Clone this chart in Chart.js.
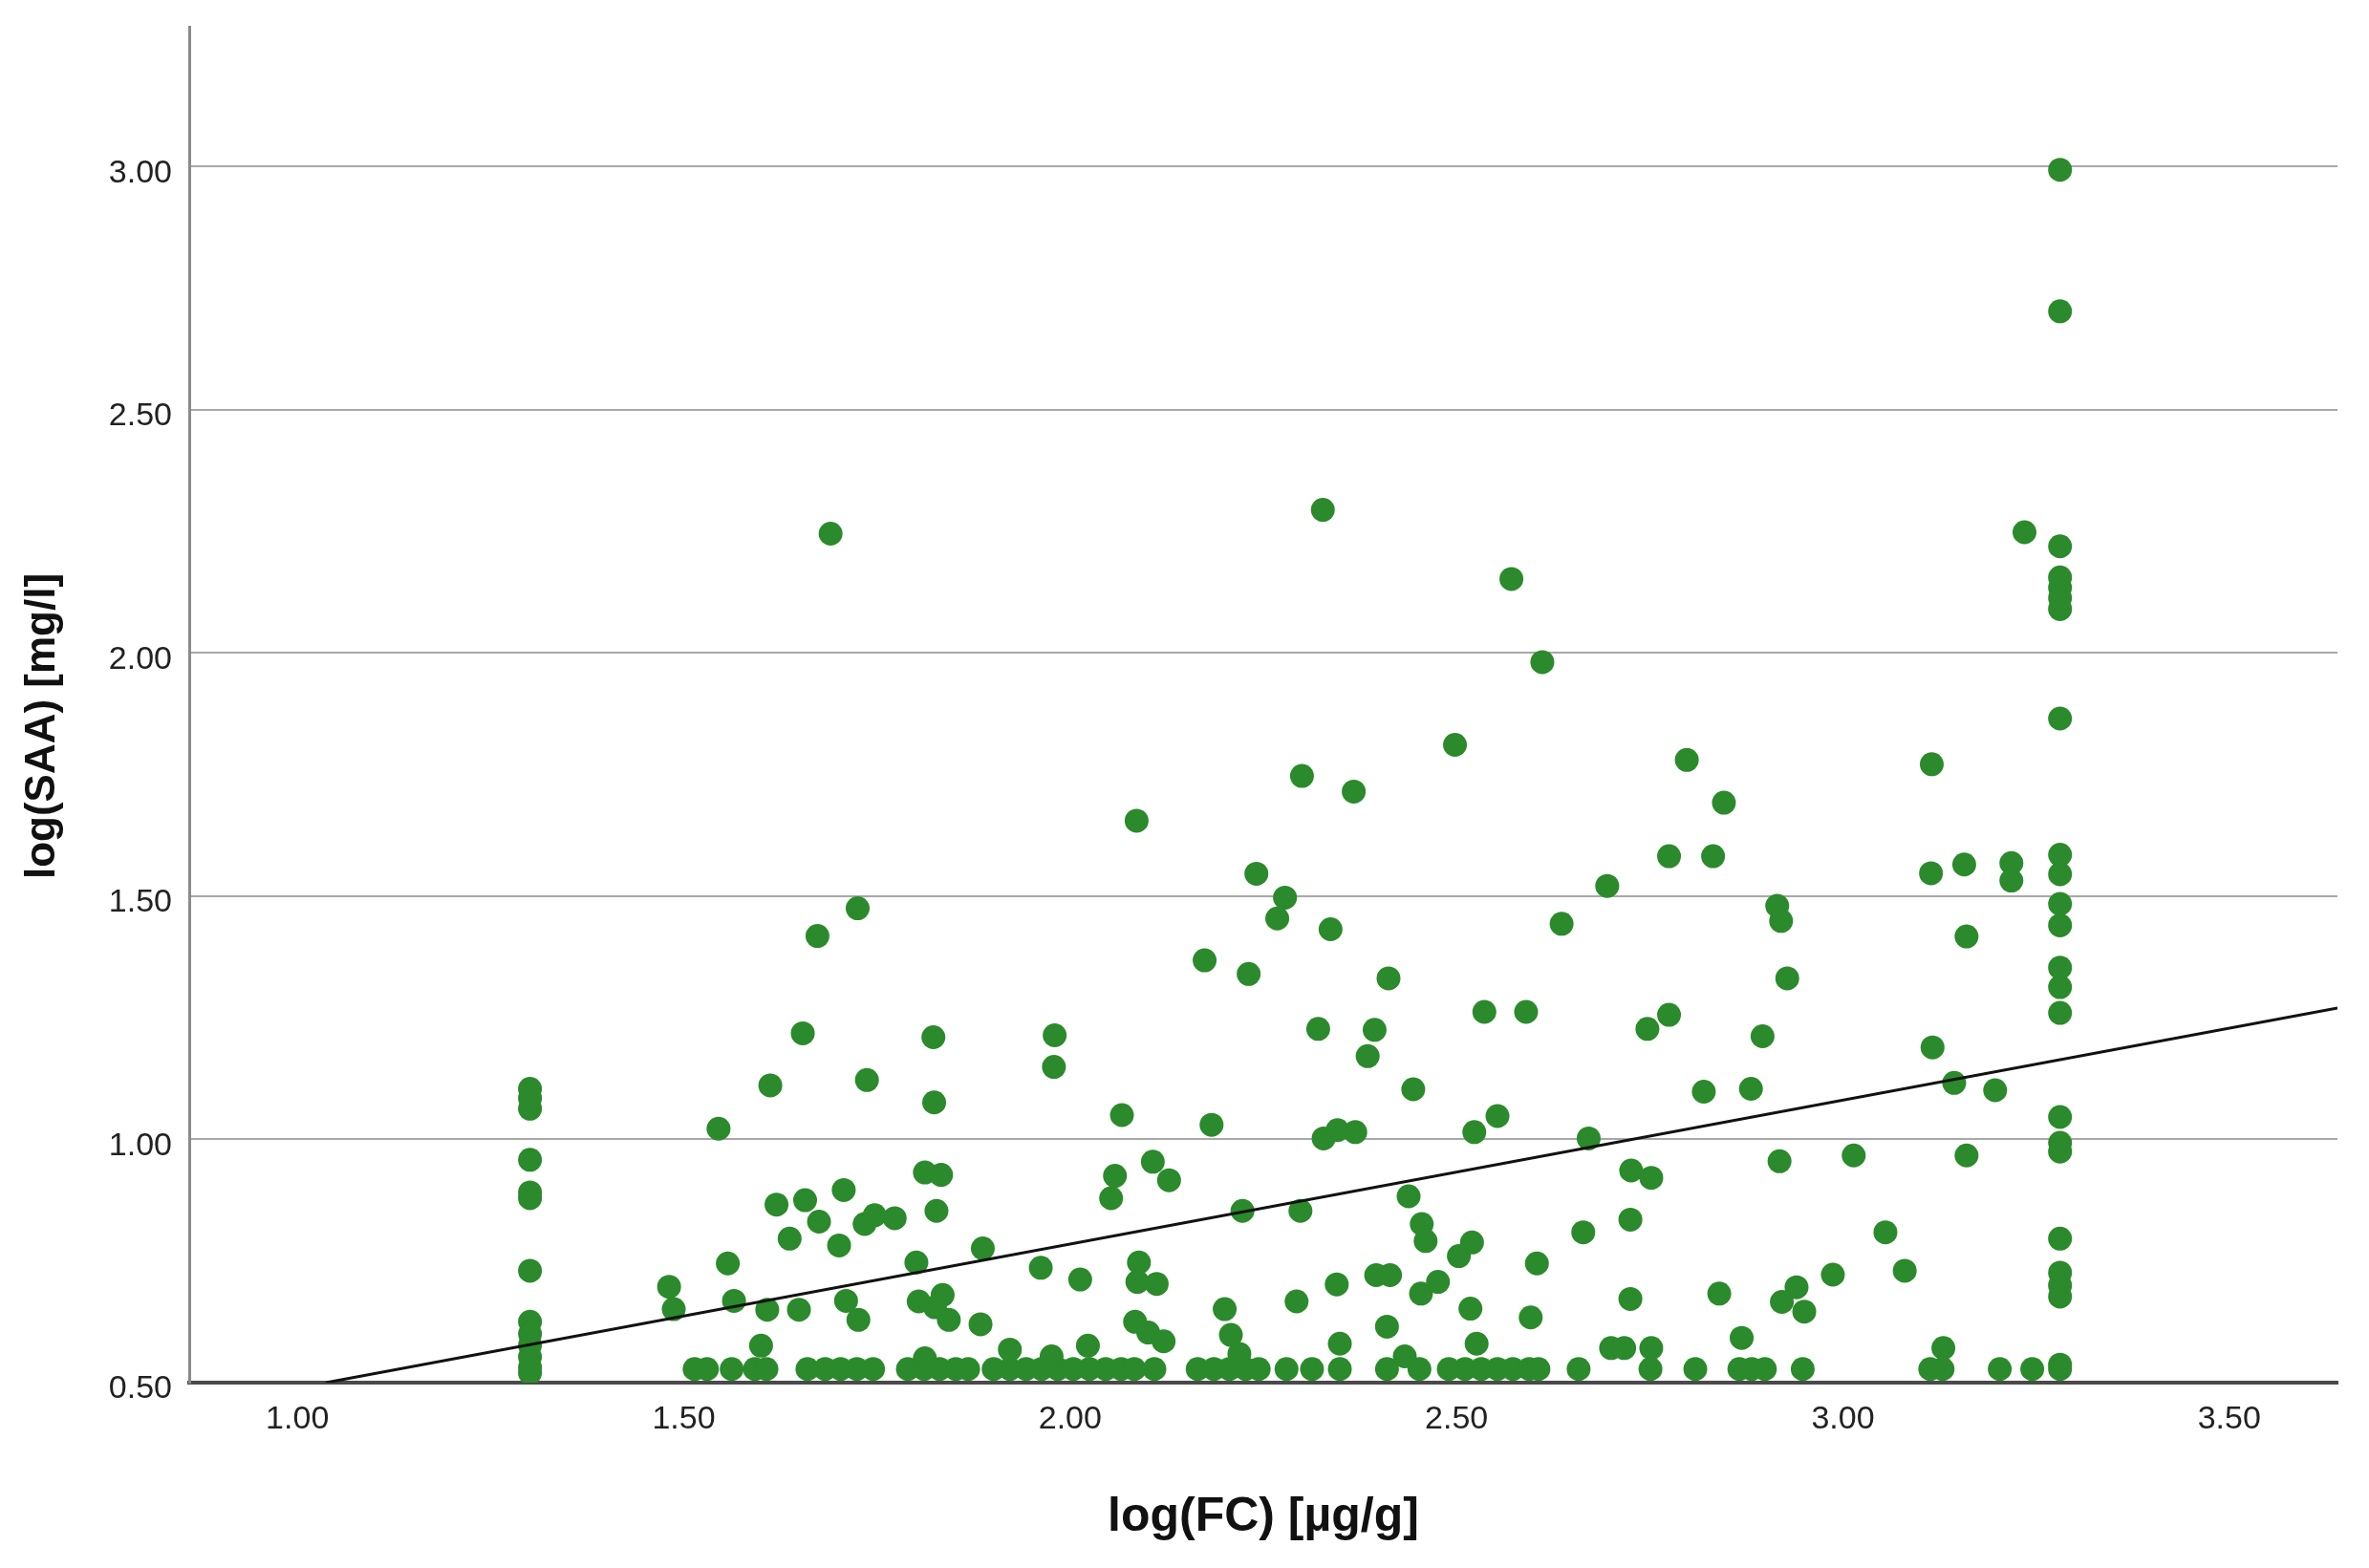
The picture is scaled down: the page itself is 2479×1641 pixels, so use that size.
<!DOCTYPE html>
<html>
<head>
<meta charset="utf-8">
<title>log(SAA) vs log(FC)</title>
<script src="https://cdn.jsdelivr.net/npm/chart.js@4.4.1/dist/chart.umd.min.js"></script>
<style>
    html, body { margin: 0; padding: 0; background: #ffffff; }
    #wrap { width: 2479px; height: 1641px; }
</style>
</head>
<body>
<div id="wrap"><canvas id="scatterChart" width="2479" height="1641"></canvas></div>
<script>
// Axis ticks
const xTicks = [1.0, 1.5, 2.0, 2.5, 3.0, 3.5];
const yTicks = [0.5, 1.0, 1.5, 2.0, 2.5, 3.0];

// Cases stacked on the lower FC limit (log 20)
const lowFC = 1.301;
const saaAtLowFC = [1.104, 1.085, 1.063, 0.958, 0.891, 0.879, 0.730, 0.625, 0.600, 0.577, 0.553, 0.531, 0.520];

// Cases stacked on the upper FC limit (log 1900)
const highFC = 3.281;
const saaAtHighFC = [2.993, 2.702, 2.219, 2.155, 2.134, 2.113, 2.090, 1.865, 1.585, 1.545, 1.484, 1.440,
    1.353, 1.313, 1.260, 1.046, 0.993, 0.975, 0.796, 0.726, 0.700, 0.677, 0.537, 0.528];

// Cases on the lower SAA limit
const floorSAA = 0.528;
const fcAtFloorSAA = [
    1.514, 1.530, 1.562, 1.592, 1.607, 1.660, 1.683, 1.703, 1.724, 1.745,
    1.790, 1.811, 1.831, 1.852, 1.868, 1.901, 1.922, 1.943, 1.963, 1.984,
    2.004, 2.025, 2.046, 2.066, 2.083, 2.109, 2.165, 2.186, 2.206, 2.227,
    2.244, 2.280, 2.313, 2.349, 2.410, 2.452, 2.490, 2.511, 2.532, 2.553,
    2.573, 2.594, 2.606, 2.658, 2.751, 2.809, 2.866, 2.882, 2.899, 2.948,
    3.113, 3.129, 3.203, 3.245
];

// All other cases (same order in both arrays)
const logFC = [
    1.725, 1.673, 1.654, 1.612, 1.737, 1.545, 1.620, 1.657, 1.707, 1.675,
    1.637, 1.701, 1.734, 1.747, 1.773, 1.557, 1.481, 1.487, 1.565, 1.608,
    1.649, 1.710, 1.726, 1.600, 1.690,
    2.086, 2.241, 2.174, 2.231, 1.823, 1.980, 1.979, 1.824, 2.067, 2.183,
    1.812, 1.833, 1.827, 2.058, 2.053, 2.107, 2.128, 2.223, 1.887, 1.801,
    1.962, 2.013, 2.089, 2.087, 2.112, 1.804, 1.835, 1.825, 1.843, 1.884,
    2.084, 2.101, 2.121, 2.200, 2.208, 2.219, 1.922, 2.023, 1.812, 1.976,
    2.498, 2.300, 2.367, 2.278, 2.268, 2.337, 2.695, 2.636, 2.412, 2.321,
    2.394, 2.385, 2.536, 2.590, 2.747, 2.444, 2.328, 2.346, 2.369, 2.523,
    2.553, 2.671, 2.726, 2.298, 2.438, 2.455, 2.460, 2.520, 2.503, 2.664,
    2.725, 2.604, 2.293, 2.345, 2.396, 2.414, 2.454, 2.476, 2.518, 2.596,
    2.725, 2.410, 2.349, 2.526, 2.700, 2.717, 2.433, 2.327, 2.571, 2.611,
    2.798, 3.115, 2.846, 2.775, 2.832, 3.114, 3.157, 3.218, 3.218, 2.915,
    2.920, 3.160, 2.928, 2.775, 2.896, 3.116, 2.820, 2.881, 3.144, 3.197,
    2.918, 3.014, 3.160, 2.752, 3.055, 3.080, 2.987, 2.840, 2.940, 2.921,
    2.950, 2.752, 2.869, 3.130, 3.235
];
const logSAA = [
    1.475, 1.418, 1.218, 1.111, 1.122, 1.022, 0.866, 0.875, 0.896, 0.831,
    0.796, 0.782, 0.826, 0.844, 0.838, 0.745, 0.697, 0.651, 0.668, 0.650,
    0.650, 0.668, 0.629, 0.576, 2.245,
    1.655, 1.546, 1.368, 1.340, 1.210, 1.214, 1.149, 1.076, 1.050, 1.030,
    0.932, 0.927, 0.853, 0.925, 0.879, 0.954, 0.916, 0.853, 0.776, 0.747,
    0.736, 0.712, 0.747, 0.707, 0.703, 0.667, 0.680, 0.655, 0.629, 0.620,
    0.625, 0.603, 0.585, 0.651, 0.598, 0.559, 0.568, 0.576, 0.550, 0.554,
    1.811, 1.747, 1.715, 1.497, 1.454, 1.432, 1.521, 1.443, 1.331, 1.227,
    1.225, 1.171, 1.262, 1.262, 1.227, 1.103, 1.002, 1.019, 1.015, 1.015,
    1.048, 1.002, 0.936, 0.853, 0.883, 0.826, 0.791, 0.788, 0.760, 0.809,
    0.835, 0.745, 0.667, 0.702, 0.721, 0.721, 0.683, 0.707, 0.652, 0.634,
    0.672, 0.615, 0.580, 0.580, 0.571, 0.571, 0.554, 2.294, 2.152, 1.981,
    1.780, 1.771, 1.692, 1.582, 1.582, 1.547, 1.565, 1.568, 1.532, 1.480,
    1.449, 1.417, 1.331, 1.256, 1.212, 1.189, 1.098, 1.104, 1.116, 1.101,
    0.955, 0.967, 0.967, 0.921, 0.809, 0.730, 0.722, 0.683, 0.696, 0.666,
    0.646, 0.571, 0.592, 0.571, 2.248
];

// Fit line (total), ends read where it leaves the plot
const fitFC = [1.037, 3.64];
const fitSAA = [0.50, 1.27];

const FONT = "'Liberation Sans', Arial, sans-serif";
const GREEN = '#2b8a2b';

function buildPoints() {
    const pts = [];
    saaAtLowFC.forEach(y => pts.push({ x: lowFC, y }));
    saaAtHighFC.forEach(y => pts.push({ x: highFC, y }));
    fcAtFloorSAA.forEach(x => pts.push({ x, y: floorSAA }));
    logFC.forEach((x, i) => pts.push({ x, y: logSAA[i] }));
    return pts;
}

// SPSS puts the y title a bit lower than the plot centre, so draw it by hand
const yTitlePlugin = {
    id: 'yTitle',
    afterDraw(chart) {
        const c = chart.ctx;
        c.save();
        c.translate(45, 760);
        c.rotate(-Math.PI / 2);
        c.font = 'bold 44px ' + FONT;
        c.fillStyle = '#111111';
        c.textAlign = 'center';
        c.textBaseline = 'middle';
        c.fillText('log(SAA) [mg/l]', 0, 0);
        c.restore();
    }
};

const ctx = document.getElementById('scatterChart');

new Chart(ctx, {
    type: 'scatter',
    data: {
        datasets: [
            {
                label: 'Fit line',
                data: fitFC.map((x, i) => ({ x, y: fitSAA[i] })),
                showLine: true,
                borderColor: '#111111',
                borderWidth: 3,
                pointRadius: 0,
                order: 0
            },
            {
                label: 'Cases',
                data: buildPoints(),
                backgroundColor: GREEN,
                borderWidth: 0,
                pointRadius: 12.5,
                order: 1
            }
        ]
    },
    plugins: [yTitlePlugin],
    options: {
        responsive: false,
        animation: false,
        events: [],
        layout: {
            padding: { top: 28, right: 33, left: 0, bottom: 0 }
        },
        plugins: {
            legend: { display: false },
            tooltip: { enabled: false }
        },
        scales: {
            x: {
                type: 'linear',
                min: 0.86,
                max: 3.64,
                afterBuildTicks: (scale) => {
                    scale.ticks = xTicks.map(v => ({ value: v }));
                },
                afterFit: (scale) => {
                    scale.height = 194;
                },
                grid: { display: false, drawTicks: false },
                border: { display: true, color: '#4a4a4a', width: 4 },
                ticks: {
                    callback: (value) => Number(value).toFixed(2),
                    font: { family: FONT, size: 34 },
                    color: '#222222',
                    padding: 18,
                    maxRotation: 0,
                    autoSkip: false
                },
                title: {
                    display: true,
                    text: 'log(FC) [µg/g]',
                    font: { family: FONT, size: 50, weight: 'bold' },
                    color: '#111111',
                    padding: { top: 0, bottom: 23 }
                }
            },
            y: {
                type: 'linear',
                min: 0.5,
                max: 3.287,
                afterBuildTicks: (scale) => {
                    scale.ticks = yTicks.map(v => ({ value: v }));
                },
                afterFit: (scale) => {
                    scale.width = 198;
                    scale.paddingTop = 0;
                    scale.paddingBottom = 0;
                },
                grid: { color: '#a8a8a8', lineWidth: 2, drawTicks: false },
                border: { display: true, color: '#8a8a8a', width: 3 },
                ticks: {
                    callback: (value) => Number(value).toFixed(2),
                    font: { family: FONT, size: 34 },
                    color: '#222222',
                    padding: 18,
                    labelOffset: 7
                },
                title: { display: false }
            }
        }
    }
});
</script>
</body>
</html>
